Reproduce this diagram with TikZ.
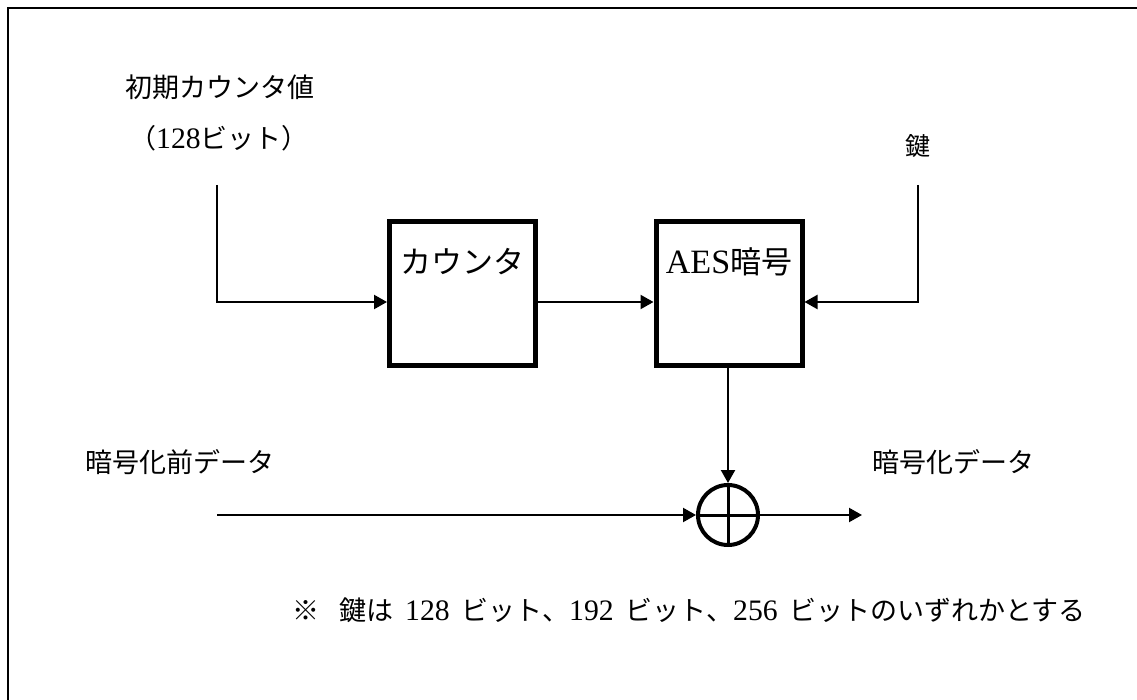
\documentclass[tikz,border=0pt]{standalone}
\usepackage{fontspec}
\newfontfamily\cjk{Noto Sans CJK JP}
\newfontfamily\lat{Liberation Serif}[Scale=1.1]
\usetikzlibrary{arrows.meta}
\begin{document}
\begin{tikzpicture}[x=1pt,y=-1pt,
  lbl/.style={inner sep=0pt,font=\fontsize{27pt}{32pt}\selectfont\cjk},
  boxtext/.style={inner sep=0pt,font=\fontsize{31pt}{36pt}\selectfont\cjk},
  blk/.style={draw,line width=5pt,minimum width=146pt,minimum height=144pt,inner sep=0pt},
  conn/.style={line width=2.2pt,-{Triangle[length=13pt,width=14pt]}},
  plain/.style={line width=2.2pt}
]
\useasboundingbox (0,0) rectangle (1137,700);
\draw[line width=2.5pt] (8,700) -- (8,8) -- (1137,8);

\node[lbl] (init1) at (220,87) {初期カウンタ値};
\node[lbl] (init2) at (219,138) {（{\lat 128}ビット）};
\node[lbl,font=\fontsize{25pt}{30pt}\selectfont\cjk] (key) at (918,146) {鍵};

\node[blk] (ctr) at (462.5,293.5) {};
\node[boxtext] (ctrt) at (462.5,262) {カウンタ};
\node[blk] (aes) at (729,293.5) {};
\node[boxtext] (aest) at (729,262) {{\lat AES}暗号};

\node[draw,circle,line width=4pt,minimum size=60pt,inner sep=0pt] (xor) at (728,515) {};
\draw[line width=3pt] (xor.north) -- (xor.south) (xor.west) -- (xor.east);

\node[lbl,anchor=west] (pre) at (85,462) {暗号化前データ};
\node[lbl,anchor=west] (post) at (872,462) {暗号化データ};
\node[lbl,anchor=west] (note) at (292,610) {※\hspace{20pt}鍵は\hspace{12pt}{\lat 128}\hspace{12pt}ビット、{\lat 192}\hspace{12pt}ビット、{\lat 256}\hspace{12pt}ビットのいずれかとする};

\coordinate (c1) at (217,185);
\coordinate (c2) at (217,302);
\coordinate (k1) at (918,185);
\coordinate (k2) at (918,302);
\coordinate (in1) at (217,515);
\coordinate (out1) at (862,515);

\draw[conn] (c1) -- (c2) -- (ctr.west |- c2);
\draw[conn] (ctr.east |- c2) -- (aes.west |- c2);
\draw[conn] (k1) -- (k2) -- (aes.east |- k2);
\draw[conn] (aes.south -| xor.north) -- (xor.north);
\draw[conn] (in1) -- (xor.west);
\draw[conn] (xor.east) -- (out1);
\end{tikzpicture}
\end{document}
